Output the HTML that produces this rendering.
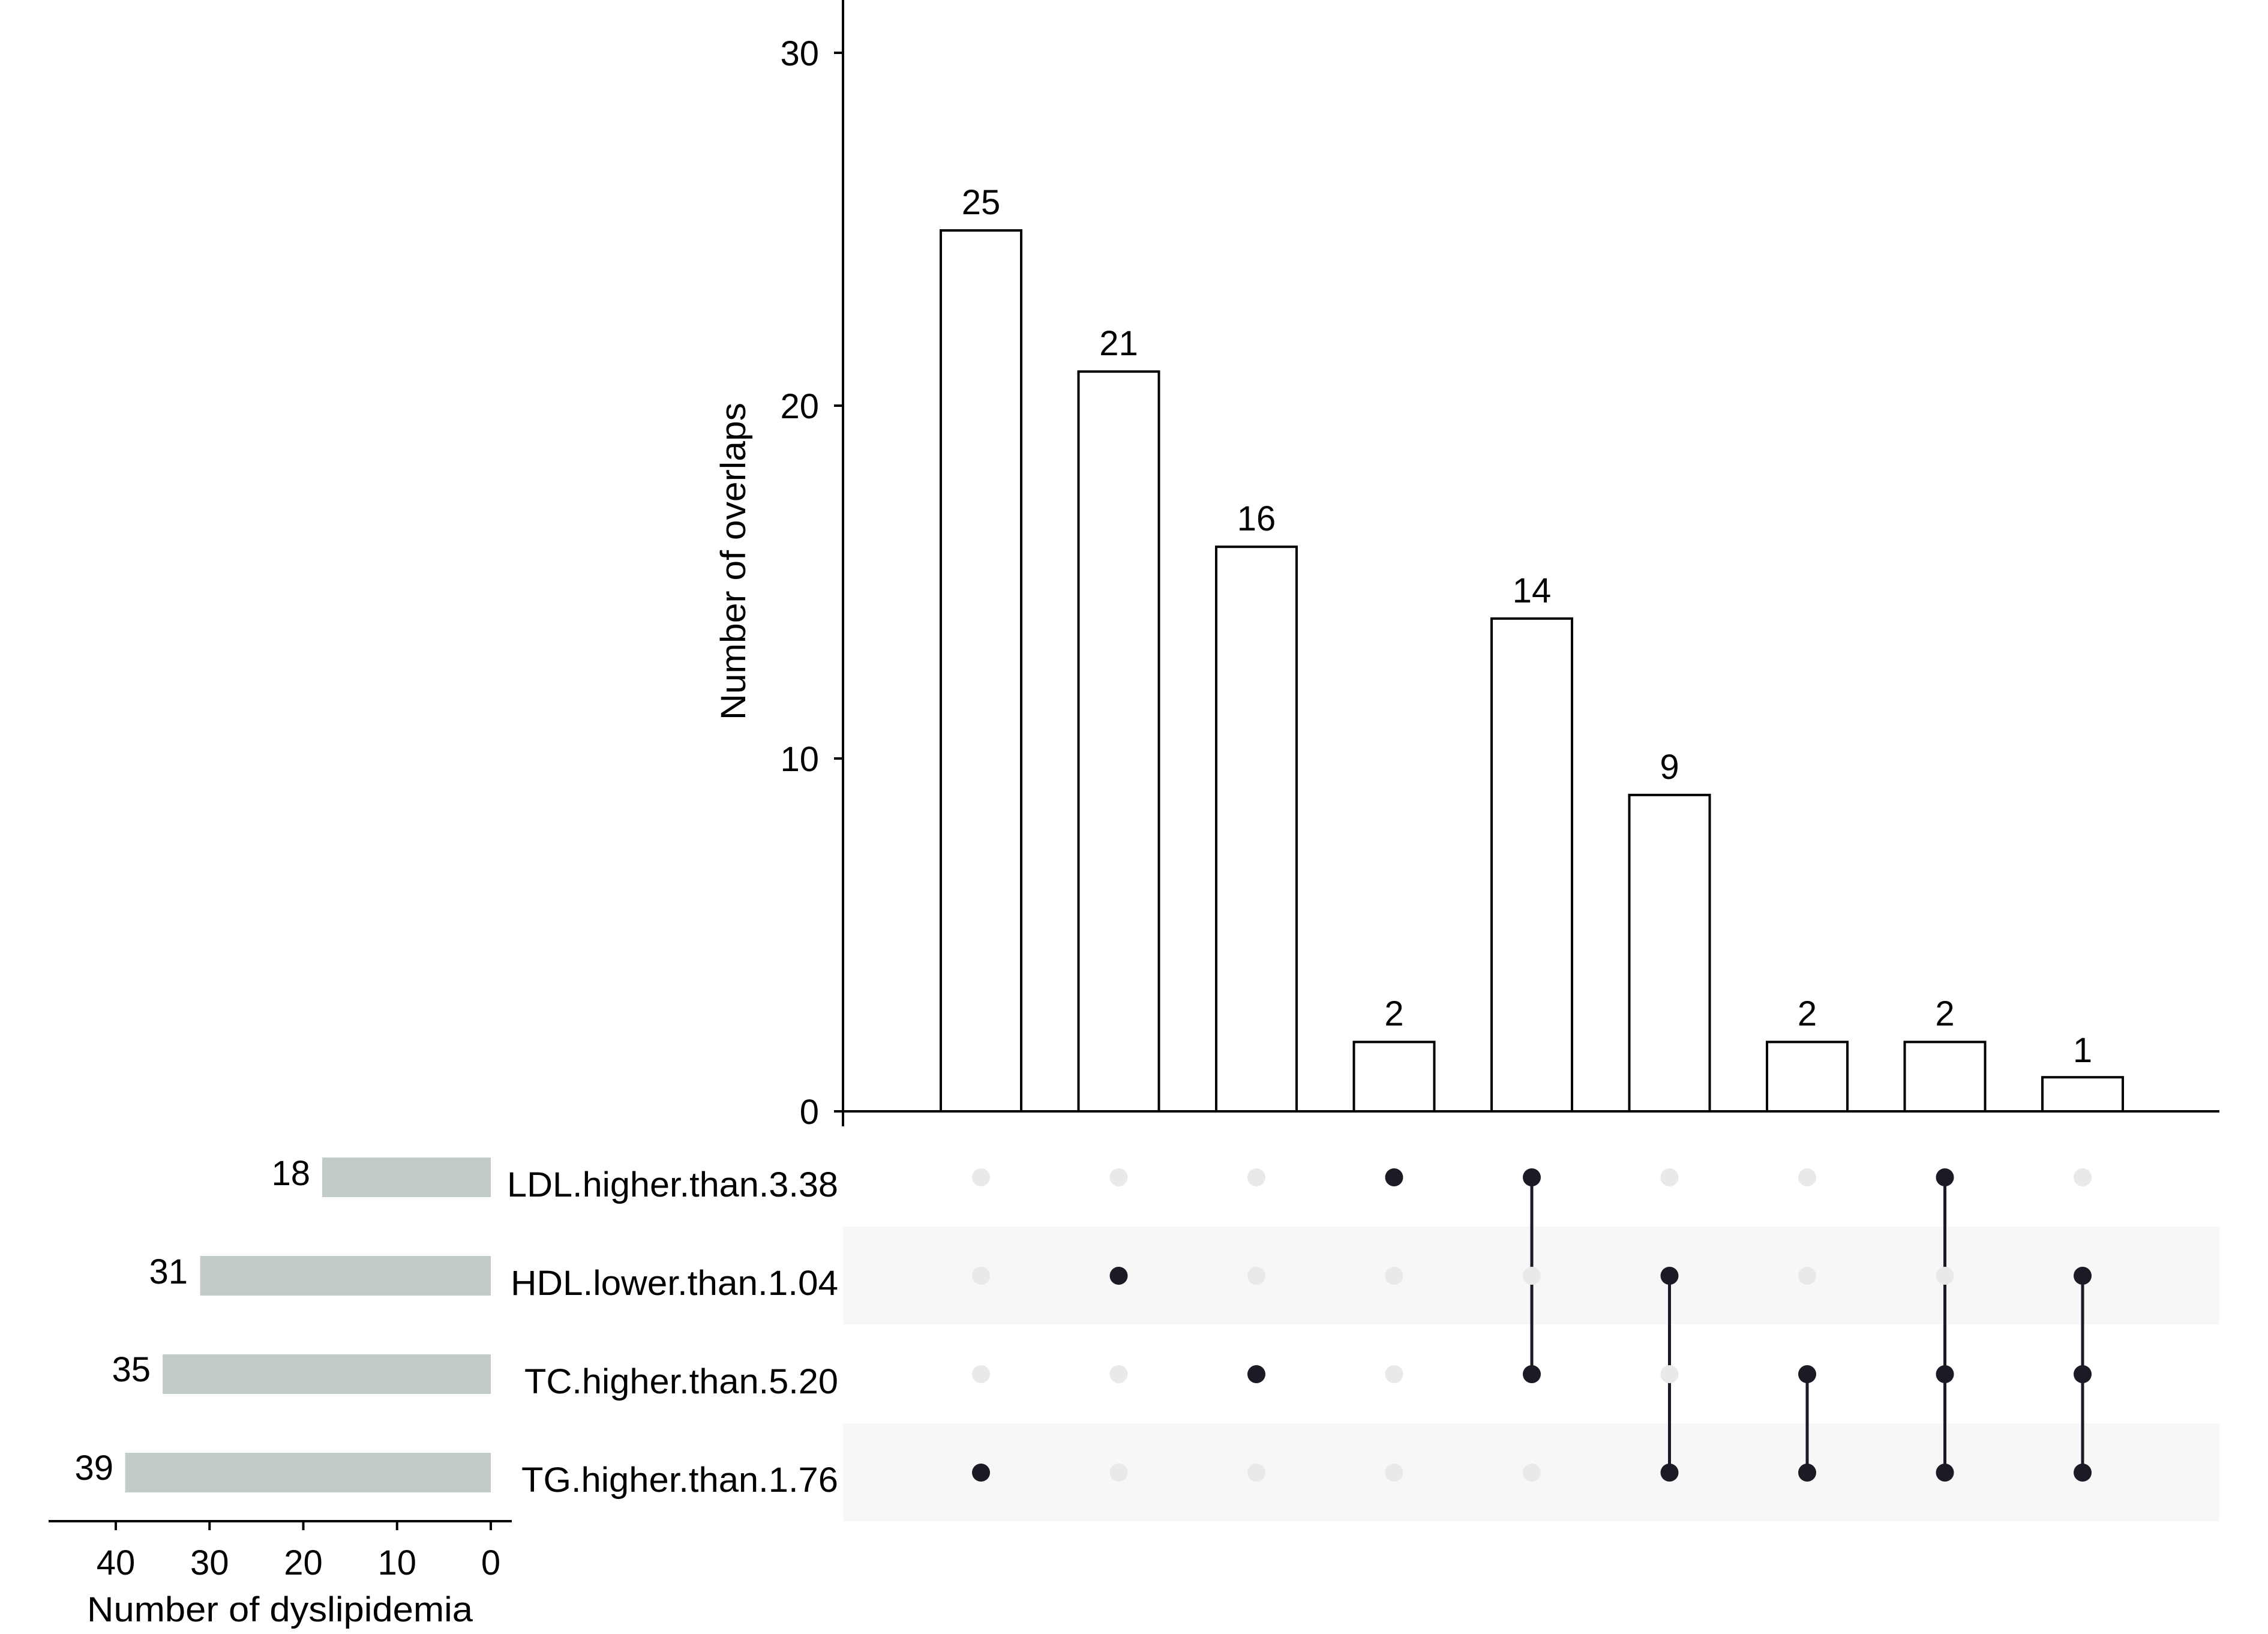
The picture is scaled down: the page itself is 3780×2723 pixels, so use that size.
<!DOCTYPE html>
<html>
<head>
<meta charset="utf-8">
<style>
  html,body{margin:0;padding:0;background:#fff;}
  svg{display:block;}
  text{font-family:"Liberation Sans",sans-serif;fill:#000;}
</style>
</head>
<body>
<svg width="3780" height="2723" viewBox="0 0 3780 2723" xmlns="http://www.w3.org/2000/svg">
  <rect x="0" y="0" width="3780" height="2723" fill="#fff"/>

  <!-- Matrix background bands -->
  <rect x="1405" y="2044" width="2294" height="163" fill="#f7f7f7"/>
  <rect x="1405" y="2372" width="2294" height="163" fill="#f7f7f7"/>

  <!-- Bars (intersection sizes) -->
  <g fill="#fff" stroke="#000" stroke-width="4">
    <rect x="1568" y="384" width="134" height="1468"/>
    <rect x="1797.5" y="619.2" width="134" height="1232.8"/>
    <rect x="2027" y="911.2" width="134" height="940.8"/>
    <rect x="2256.5" y="1736.4" width="134" height="115.6"/>
    <rect x="2486" y="1030.8" width="134" height="821.2"/>
    <rect x="2715.5" y="1324.8" width="134" height="527.2"/>
    <rect x="2945" y="1736.4" width="134" height="115.6"/>
    <rect x="3174.5" y="1736.4" width="134" height="115.6"/>
    <rect x="3404" y="1795.2" width="134" height="56.8"/>
  </g>

  <!-- Bar value labels -->
  <g font-size="58" text-anchor="middle">
    <text x="1635" y="357">25</text>
    <text x="1864.5" y="592">21</text>
    <text x="2094" y="884">16</text>
    <text x="2323.5" y="1709">2</text>
    <text x="2553" y="1004">14</text>
    <text x="2782.5" y="1298">9</text>
    <text x="3012" y="1709">2</text>
    <text x="3241.5" y="1709">2</text>
    <text x="3471" y="1770">1</text>
  </g>

  <!-- Top axes -->
  <g stroke="#000" stroke-width="4" fill="none">
    <line x1="1405" y1="0" x2="1405" y2="1877"/>
    <line x1="1390" y1="1852" x2="3699" y2="1852"/>
    <line x1="1390" y1="1264" x2="1405" y2="1264"/>
    <line x1="1390" y1="676" x2="1405" y2="676"/>
    <line x1="1390" y1="88" x2="1405" y2="88"/>
  </g>
  <g font-size="58" text-anchor="end">
    <text x="1365" y="1873">0</text>
    <text x="1365" y="1285">10</text>
    <text x="1365" y="697">20</text>
    <text x="1365" y="109">30</text>
  </g>
  <text font-size="58" text-anchor="middle" textLength="529" lengthAdjust="spacingAndGlyphs" transform="translate(1242,935.5) rotate(-90)" x="0" y="0">Number of overlaps</text>

  <!-- Matrix connecting lines -->
  <g stroke="#1c1a25" stroke-width="5">
    <line x1="2553" y1="1962" x2="2553" y2="2290"/>
    <line x1="2782.5" y1="2126" x2="2782.5" y2="2454"/>
    <line x1="3012" y1="2290" x2="3012" y2="2454"/>
    <line x1="3241.5" y1="1962" x2="3241.5" y2="2454"/>
    <line x1="3471" y1="2126" x2="3471" y2="2454"/>
  </g>

  <!-- Matrix dots: light -->
  <g fill="#e8eae8">
    <!-- row LDL 1962 -->
    <circle cx="1635" cy="1962" r="15"/>
    <circle cx="1864.5" cy="1962" r="15"/>
    <circle cx="2094" cy="1962" r="15"/>
    <circle cx="2782.5" cy="1962" r="15"/>
    <circle cx="3012" cy="1962" r="15"/>
    <circle cx="3471" cy="1962" r="15"/>
    <!-- row HDL 2126 -->
    <circle cx="1635" cy="2126" r="15"/>
    <circle cx="2094" cy="2126" r="15"/>
    <circle cx="2323.5" cy="2126" r="15"/>
    <circle cx="2553" cy="2126" r="15"/>
    <circle cx="3012" cy="2126" r="15"/>
    <circle cx="3241.5" cy="2126" r="15"/>
    <!-- row TC 2290 -->
    <circle cx="1635" cy="2290" r="15"/>
    <circle cx="1864.5" cy="2290" r="15"/>
    <circle cx="2323.5" cy="2290" r="15"/>
    <circle cx="2782.5" cy="2290" r="15"/>
    <!-- row TG 2454 -->
    <circle cx="1864.5" cy="2454" r="15"/>
    <circle cx="2094" cy="2454" r="15"/>
    <circle cx="2323.5" cy="2454" r="15"/>
    <circle cx="2553" cy="2454" r="15"/>
  </g>
  <!-- Matrix dots: dark -->
  <g fill="#1c1a25">
    <circle cx="1635" cy="2454" r="15"/>
    <circle cx="1864.5" cy="2126" r="15"/>
    <circle cx="2094" cy="2290" r="15"/>
    <circle cx="2323.5" cy="1962" r="15"/>
    <circle cx="2553" cy="1962" r="15"/>
    <circle cx="2553" cy="2290" r="15"/>
    <circle cx="2782.5" cy="2126" r="15"/>
    <circle cx="2782.5" cy="2454" r="15"/>
    <circle cx="3012" cy="2290" r="15"/>
    <circle cx="3012" cy="2454" r="15"/>
    <circle cx="3241.5" cy="1962" r="15"/>
    <circle cx="3241.5" cy="2290" r="15"/>
    <circle cx="3241.5" cy="2454" r="15"/>
    <circle cx="3471" cy="2126" r="15"/>
    <circle cx="3471" cy="2290" r="15"/>
    <circle cx="3471" cy="2454" r="15"/>
  </g>

  <!-- Row labels -->
  <g font-size="58" text-anchor="end">
    <text x="1397" y="1994" textLength="552" lengthAdjust="spacingAndGlyphs">LDL.higher.than.3.38</text>
    <text x="1397" y="2158" textLength="546" lengthAdjust="spacingAndGlyphs">HDL.lower.than.1.04</text>
    <text x="1397" y="2322" textLength="523" lengthAdjust="spacingAndGlyphs">TC.higher.than.5.20</text>
    <text x="1397" y="2486" textLength="528" lengthAdjust="spacingAndGlyphs">TG.higher.than.1.76</text>
  </g>

  <!-- Left set-size bars -->
  <g fill="#c3cbc9">
    <rect x="537" y="1929" width="281" height="66"/>
    <rect x="333.6" y="2093" width="484.4" height="66"/>
    <rect x="271.1" y="2257" width="546.9" height="66"/>
    <rect x="208.6" y="2421" width="609.4" height="66"/>
  </g>
  <g font-size="58" text-anchor="end">
    <text x="517" y="1975">18</text>
    <text x="313" y="2139">31</text>
    <text x="251" y="2302">35</text>
    <text x="189" y="2466">39</text>
  </g>

  <!-- Left axis -->
  <g stroke="#000" stroke-width="4">
    <line x1="81" y1="2535" x2="853" y2="2535"/>
    <line x1="818" y1="2535" x2="818" y2="2550"/>
    <line x1="661.75" y1="2535" x2="661.75" y2="2550"/>
    <line x1="505.5" y1="2535" x2="505.5" y2="2550"/>
    <line x1="349.25" y1="2535" x2="349.25" y2="2550"/>
    <line x1="193" y1="2535" x2="193" y2="2550"/>
  </g>
  <g font-size="58" text-anchor="middle">
    <text x="818" y="2624">0</text>
    <text x="661.75" y="2624">10</text>
    <text x="505.5" y="2624">20</text>
    <text x="349.25" y="2624">30</text>
    <text x="193" y="2624">40</text>
  </g>
  <text x="466.5" y="2702" font-size="58" text-anchor="middle" textLength="643" lengthAdjust="spacingAndGlyphs">Number of dyslipidemia</text>
</svg>
</body>
</html>
